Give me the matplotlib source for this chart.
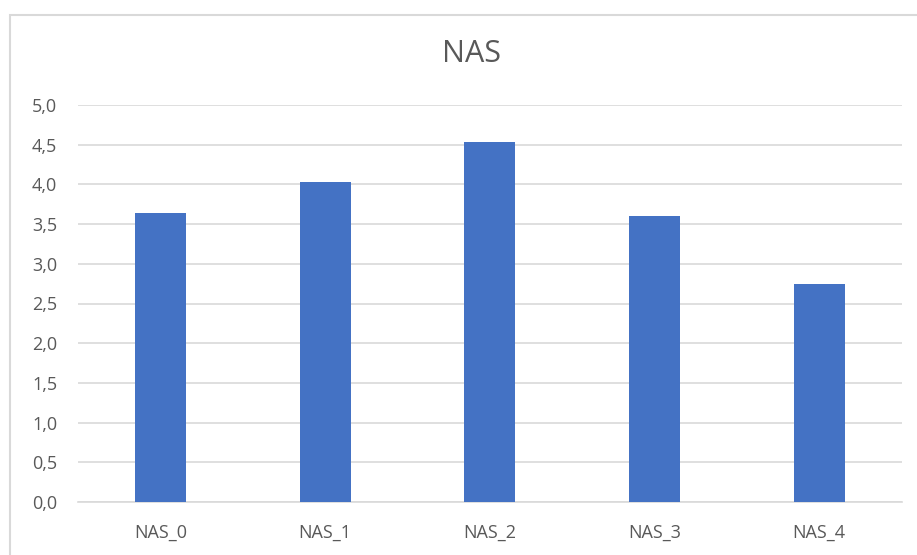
import matplotlib
matplotlib.use("Agg")
import matplotlib.pyplot as plt
from matplotlib.patches import Rectangle

categories = ["NAS_0", "NAS_1", "NAS_2", "NAS_3", "NAS_4"]
values = [3.64, 4.03, 4.54, 3.60, 2.75]
yticks = [0.0, 0.5, 1.0, 1.5, 2.0, 2.5, 3.0, 3.5, 4.0, 4.5, 5.0]
title = "NAS"

plt.rcParams["font.family"] = ["Open Sans", "DejaVu Sans"]

W, H = 917, 555
fig = plt.figure(figsize=(W / 100, H / 100), dpi=100)

# chart frame
fig.patches.append(Rectangle((10 / W, -0.1), 1.1, 1 - 15 / H + 0.1,
                             transform=fig.transFigure, fill=False,
                             edgecolor="#d9d9d9", linewidth=1.5))

ax = fig.add_axes([78 / W, 1 - 502 / H, 823.5 / W, (502 - 105) / H])
x = range(len(categories))
ax.bar(x, values, width=0.31, color="#4472c4", zorder=3)

ax.set_xlim(-0.5, len(categories) - 0.5)
ax.set_ylim(0, 5.0)
ax.set_yticks(yticks)
ax.set_yticklabels([f"{t:.1f}".replace(".", ",") for t in yticks])
ax.set_xticks(list(x))
ax.set_xticklabels(categories)
ax.grid(axis="y", color="#d9d9d9", linewidth=1.2, zorder=0)
for s in ["top", "right", "left"]:
    ax.spines[s].set_visible(False)
ax.spines["bottom"].set_color("#d9d9d9")
ax.spines["bottom"].set_linewidth(1.2)
ax.tick_params(axis="both", length=0, labelsize=13, labelcolor="#595959")
ax.tick_params(axis="y", pad=15)
ax.tick_params(axis="x", pad=16)

fig.text(471 / W, 1 - 54.5 / H, title, ha="center", va="center",
         fontsize=22, color="#595959")

fig.savefig("out.png", dpi=100)
